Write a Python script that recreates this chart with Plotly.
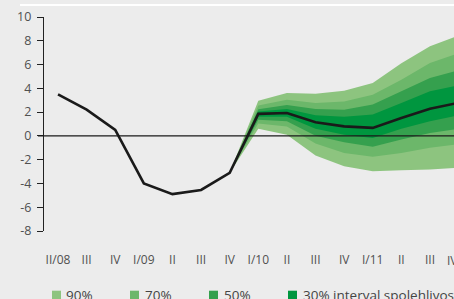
import plotly.graph_objects as go

# ---- data ----
tick_labels = ["II/08", "III", "IV", "I/09", "II", "III", "IV", "I/10",
               "II", "III", "IV", "I/11", "II", "III", "IV"]
central = [3.5, 2.2, 0.5, -4.0, -4.9, -4.55, -3.1, 1.85, 1.93, 1.15, 0.8, 0.67, 1.51, 2.29, 2.78]

# fan chart bounds from IV/09 (index 6) to IV/11 (index 14)
fan_x = list(range(6, 15))
upper90 = [-3.1, 2.95, 3.6, 3.55, 3.8, 4.45, 6.1, 7.53, 8.45]
upper70 = [-3.1, 2.55, 3.05, 2.77, 2.9, 3.47, 4.73, 6.13, 6.95]
upper50 = [-3.1, 2.25, 2.6, 2.27, 2.2, 2.63, 3.75, 4.87, 5.53]
upper30 = [-3.1, 2.05, 2.27, 1.73, 1.6, 1.79, 2.77, 3.75, 4.25]
lower30 = [-3.1, 1.6, 1.6, 0.59, 0.1, -0.17, 0.59, 1.23, 1.72]
lower50 = [-3.1, 1.35, 1.23, 0.02, -0.54, -0.92, -0.31, 0.25, 0.58]
lower70 = [-3.1, 1.05, 0.8, -0.65, -1.43, -1.76, -1.43, -1.0, -0.70]
lower90 = [-3.1, 0.6, 0.1, -1.65, -2.55, -2.97, -2.89, -2.83, -2.67]

legend_labels = ["90%", "70%", "50%", "30% interval spolehlivosti"]
band_colors = ["#8dc47f", "#6cb76a", "#35a04e", "#00963f"]

y_ticks = [-8, -6, -4, -2, 0, 2, 4, 6, 8, 10]
y_ticktext = [str(v) for v in y_ticks]

# ---- figure ----
fig = go.Figure()
bands = [(lower90, upper90), (lower70, upper70), (lower50, upper50), (lower30, upper30)]
for (lo, hi), col in zip(bands, band_colors):
    fig.add_trace(go.Scatter(x=fan_x, y=lo, mode="lines", line=dict(width=0, color=col),
                             showlegend=False, hoverinfo="skip"))
    fig.add_trace(go.Scatter(x=fan_x, y=hi, mode="lines", line=dict(width=0, color=col),
                             fill="tonexty", fillcolor=col, showlegend=False, hoverinfo="skip"))

fig.add_trace(go.Scatter(x=list(range(len(central))), y=central, mode="lines",
                         line=dict(color="#1a1a1a", width=2.6), showlegend=False))

W, H = 454, 299
ML, MR, MT, MB = 44, 0, 17, 68
PW, PH = W - ML - MR, H - MT - MB

def px_x(p):
    return (p - ML) / PW

def px_y(p):
    return (H - MB - p) / PH

shapes = [
    # white rule at the very top
    dict(type="rect", xref="paper", yref="paper", x0=px_x(20), x1=px_x(456),
         y0=px_y(6), y1=px_y(4), line=dict(width=0), fillcolor="white", layer="above"),
    # zero line drawn over the fan
    dict(type="line", xref="paper", yref="y", x0=px_x(38), x1=1.0, y0=0, y1=0,
         line=dict(color="#1a1a1a", width=1.2), layer="above"),
]
annotations = []
sq_x = [52, 130, 209, 288]
txt_x = [64.3, 143.3, 222.3, 300.7]
for lab, col, sx, tx in zip(legend_labels, band_colors, sq_x, txt_x):
    shapes.append(dict(type="rect", xref="paper", yref="paper",
                       x0=px_x(sx), x1=px_x(sx + 9), y0=px_y(290.7), y1=px_y(299.7),
                       line=dict(width=0), fillcolor=col))
    annotations.append(dict(text=lab, xref="paper", yref="paper", x=px_x(tx), y=px_y(295),
                            xanchor="left", yanchor="middle", showarrow=False,
                            font=dict(size=13.5, color="#444444", family="Open Sans")))

# last quarter label, partly outside the visible plot range
annotations.append(dict(text=tick_labels[-1], xref="paper", yref="paper", x=px_x(452), y=px_y(260),
                        xanchor="center", yanchor="middle", showarrow=False,
                        font=dict(size=12, color="#505050", family="Open Sans")))

fig.update_layout(
    width=W, height=H,
    margin=dict(l=ML, r=MR, t=MT, b=MB),
    paper_bgcolor="#ececec", plot_bgcolor="#ececec",
    font=dict(family="Open Sans", size=12, color="#505050"),
    showlegend=False,
    shapes=shapes,
    annotations=annotations,
    xaxis=dict(range=[-0.49, 13.84], tickvals=list(range(len(tick_labels))), ticktext=tick_labels,
               showgrid=False, zeroline=False, showline=False, ticks="",
               ticklabelstandoff=20, tickfont=dict(size=12, color="#505050")),
    yaxis=dict(range=[-8, 10], tickvals=y_ticks, ticktext=y_ticktext,
               showgrid=False, zeroline=False,
               showline=True, linecolor="#222222", linewidth=1.2,
               ticks="outside", ticklen=6, tickcolor="#222222", tickwidth=1.2,
               ticklabelstandoff=3, tickfont=dict(size=12.5, color="#505050")),
)

fig.write_html("out.html", config={"displayModeBar": False},
               post_script="document.body.style.margin='0';document.body.style.overflow='hidden';"
                           "document.body.style.background='#ececec';")
